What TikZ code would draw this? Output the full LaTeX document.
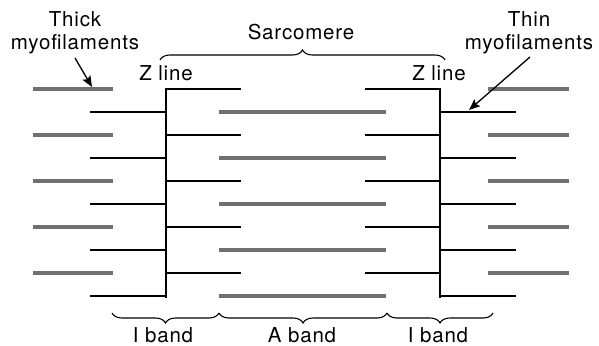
\documentclass[tikz,border=0pt]{standalone}
\usepackage{fontspec}
\setmainfont{TeX Gyre Heros}[LetterSpace=4]
\usetikzlibrary{decorations.pathreplacing,arrows.meta}
\definecolor{thickgray}{HTML}{707070}
\tikzset{
  thickfil/.style={draw=thickgray,line width=4pt},
  thinfil/.style={draw=black,line width=1.2pt},
  zdisc/.style={draw=black,line width=2.6pt},
  lbl/.style={font=\fontsize{20.5}{23.5}\selectfont,inner sep=0pt,align=center},
  bracebar/.style={draw,line width=1.1pt,decorate,decoration={brace,amplitude=10pt}},
  pointer/.style={draw,line width=1.3pt,-{Stealth[length=11pt,width=9pt,inset=2pt]}}
}
\begin{document}
\begin{tikzpicture}[x=1pt,y=-1pt]
\useasboundingbox (0,0) rectangle (599,345);

% Z discs
\coordinate (zlt) at (166,88);
\coordinate (zlb) at (166,298);
\coordinate (zrt) at (440,88);
\coordinate (zrb) at (440,298);
\draw[zdisc] (zlt) -- (zlb);
\draw[zdisc] (zrt) -- (zrb);

% filaments, rows 46 apart
\foreach \i in {0,...,4}{
  \pgfmathsetmacro{\ya}{89+46*\i}
  \pgfmathsetmacro{\yb}{112+46*\i}
  % thick filaments outside the sarcomere
  \draw[thickfil] (33,\ya) -- (113,\ya);
  \draw[thickfil] (488,\ya) -- (569,\ya);
  % thin filaments beyond the Z discs
  \draw[thinfil] (90,\yb) -- (166,\yb);
  \draw[thinfil] (440,\yb) -- (516,\yb);
  % thin filaments inside the sarcomere
  \draw[thinfil] (166,\ya) -- (241,\ya);
  \draw[thinfil] (365,\ya) -- (440,\ya);
  % central thick filaments
  \draw[thickfil] (219,\yb) -- (386,\yb);
}

% labels (base = baseline of the last line)
\node[lbl,anchor=base] (thick) at (75,50) {Thick\\myofilaments};
\node[lbl,anchor=base] (thin) at (529,50) {Thin\\myofilaments};
\node[lbl,anchor=base] (sarc) at (301,40) {Sarcomere};
\node[lbl,anchor=base] (zl) at (166,81) {Z line};
\node[lbl,anchor=base] (zr) at (439,81) {Z line};

% pointers
\coordinate (thickfrom) at (75,58);
\coordinate (thicktip) at (92,87);
\coordinate (thinfrom) at (530,57);
\coordinate (thintip) at (469,110);
\draw[pointer] (thickfrom) -- (thicktip);
\draw[pointer] (thinfrom) -- (thintip);

% braces
\coordinate (sl) at (160,60);
\coordinate (sr) at (445,60);
\draw[bracebar] (sl) -- (sr);

\coordinate (b0) at (112,313);
\coordinate (b1) at (219,313);
\coordinate (b2) at (387,313);
\coordinate (b3) at (493,313);
\draw[bracebar] (b1) -- (b0);
\draw[bracebar] (b2) -- (b1);
\draw[bracebar] (b3) -- (b2);

\node[lbl,anchor=base] (ib1) at (163,342) {I band};
\node[lbl,anchor=base] (ab) at (302,342) {A band};
\node[lbl,anchor=base] (ib2) at (438,342) {I band};
\end{tikzpicture}
\end{document}
